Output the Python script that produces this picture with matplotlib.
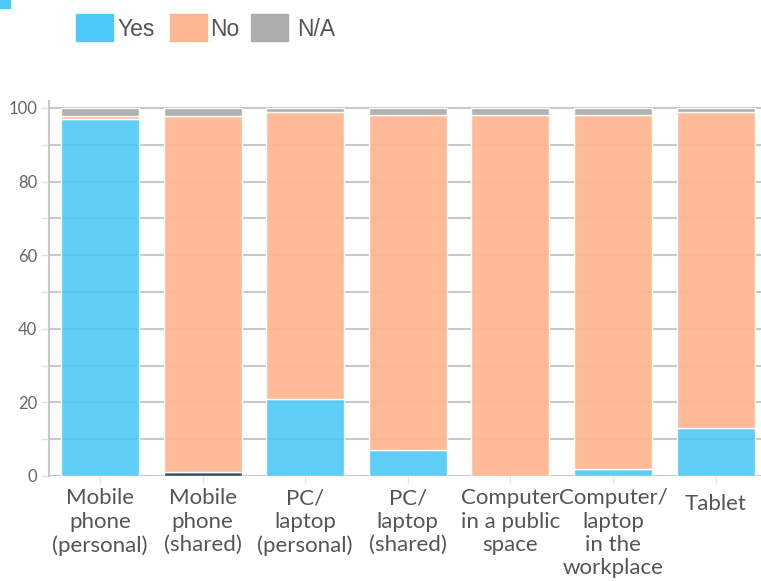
import matplotlib
matplotlib.use("Agg")
import matplotlib.pyplot as plt
from matplotlib.patches import Rectangle
from matplotlib.transforms import ScaledTranslation
import numpy as np

categories = ["Mobile\nphone\n(personal)", "Mobile\nphone\n(shared)", "PC/\nlaptop\n(personal)",
              "PC/\nlaptop\n(shared)", "Computer\nin a public\nspace", "Computer/\nlaptop\nin the\nworkplace",
              "Tablet"]
yes_vals = [97, 1, 21, 7, 0, 2, 13]
no_vals = [0.7, 96.7, 78, 91, 98, 96, 86]
na_vals = [2.3, 2.3, 1, 2, 2, 2, 1]
series_names = ["Yes", "No", "N/A"]
series_colors = ["#4CC9F6", "#FFB793", "#ADADAD"]
yes_bar_colors = ["#4CC9F6", "#1E3F5E", "#4CC9F6", "#4CC9F6", "#4CC9F6", "#4CC9F6", "#4CC9F6"]

W, H = 761, 581
fig = plt.figure(figsize=(W / 100, H / 100), dpi=100)
x0, x1 = 48.6, 767.0
y0 = 476.0
ppu = 3.68
ytop = 102
ax = fig.add_axes([x0 / W, (H - y0) / H, (x1 - x0) / W, ppu * ytop / H])

x = np.arange(len(categories))
bw = 0.76
ax.bar(x, yes_vals, bw, color=yes_bar_colors, alpha=0.9, edgecolor="white", linewidth=1, zorder=2)
ax.bar(x, no_vals, bw, bottom=yes_vals, color=series_colors[1], alpha=0.95, edgecolor="white", linewidth=1, zorder=2)
bottom2 = np.array(yes_vals) + np.array(no_vals)
ax.bar(x, na_vals, bw, bottom=bottom2, color=series_colors[2], alpha=0.95, edgecolor="white", linewidth=1, zorder=2)

ax.set_xlim(-0.5, len(categories) - 0.5)
ax.set_ylim(0, ytop)
ax.set_yticks(np.arange(0, 101, 20))
ax.set_yticks(np.arange(10, 100, 20), minor=True)
ax.grid(True, axis="y", which="both", color="#C8C8C8", linewidth=1.5, zorder=0)
ax.set_axisbelow(True)
for s in ["top", "right", "bottom"]:
    ax.spines[s].set_visible(False)
ax.spines["left"].set_color("#C8C8C8")
ax.spines["left"].set_linewidth(1.5)
ax.axhline(0, color="#C8C8C8", linewidth=1.5, zorder=1)
ax.tick_params(axis="y", which="both", length=6, width=1, color="#E4E4E4", labelcolor="#666666",
               labelsize=12, pad=2)
ax.tick_params(axis="x", length=5, width=1, color="#E4E4E4", labelcolor="#555555", pad=4)
ax.set_xticks(x)
ax.set_xticklabels(categories, fontsize=16, linespacing=1.2, fontfamily="Lato")
for lab in ax.get_yticklabels():
    lab.set_fontfamily("Lato")
tick_labels = ax.get_xticklabels()
tick_labels[-1].set_transform(tick_labels[-1].get_transform() + ScaledTranslation(0, -5 / 100, fig.dpi_scale_trans))

# legend
lx = [76, 170, 251]
tx = [118, 210, 297]
for i, name in enumerate(series_names):
    fig.patches.append(Rectangle((lx[i] / W, 1 - 41 / H), 37 / W, 27 / H, transform=fig.transFigure,
                                 color=series_colors[i], figure=fig))
    fig.text(tx[i] / W, 1 - 29 / H, name, fontsize=16.5, color="#555555", va="center", ha="left",
             fontfamily="Liberation Sans")

# small decoration square at top-left
fig.patches.append(Rectangle((0, 1 - 8 / H), 10 / W, 8 / H, transform=fig.transFigure,
                             color="#4CC9F6", figure=fig))

fig.savefig("out.png", dpi=100)
